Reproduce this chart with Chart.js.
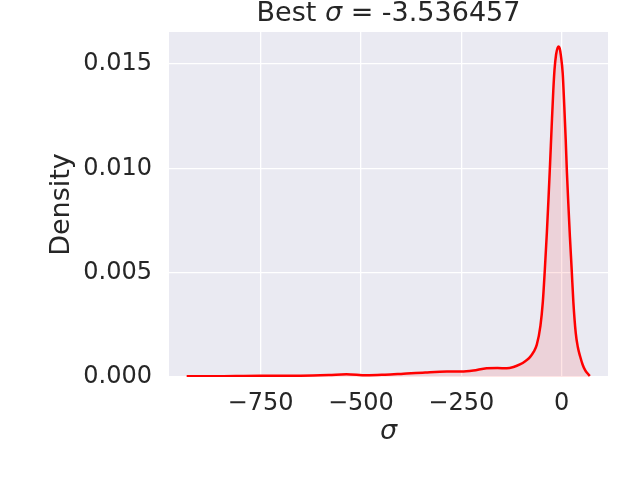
<!DOCTYPE html>
<html>
<head>
<meta charset="utf-8">
<script src="https://cdn.jsdelivr.net/npm/chart.js@4/dist/chart.umd.min.js"></script>
<style>
  html, body { margin: 0; padding: 0; background: #ffffff; }
  #wrap { width: 640px; height: 480px; }
</style>
</head>
<body>
<div id="wrap"><canvas id="kdeChart" width="640" height="480"></canvas></div>
<script>
// KDE curve (sigma, density)
const SIGMA = [-934, -850, -750, -650, -580, -536, -486, -440, -394, -340, -286, -250, -220, -187, -160, -137, -120, -104, -90, -79, -70, -62, -53, -47, -42, -37, -33, -29, -25, -21, -18, -14, -10, -7.5, -5, -2, 2.5, 6.5, 10, 13, 16.5, 20.5, 25, 29, 35, 40, 46, 52, 58, 64, 70];
const DENSITY = [0.00003, 0.00004, 0.00006, 0.00006, 0.00009, 0.00013, 0.00008, 0.00011, 0.00016, 0.00022, 0.00026, 0.00026, 0.00031, 0.00042, 0.00043, 0.00042, 0.00048, 0.00060, 0.00077, 0.00095, 0.00120, 0.00155, 0.00245, 0.00360, 0.00515, 0.00690, 0.00850, 0.01020, 0.01200, 0.01370, 0.01470, 0.01545, 0.01578, 0.01583, 0.01575, 0.01540, 0.01455, 0.01295, 0.01136, 0.00980, 0.00830, 0.00670, 0.00510, 0.00360, 0.00210, 0.00145, 0.00098, 0.00060, 0.00034, 0.00018, 0.00005];

const X_TICKS = [-750, -500, -250, 0];
const X_TICK_LABELS = ['\u2212750', '\u2212500', '\u2212250', '0'];
const Y_TICKS = [0, 0.005, 0.010, 0.015];
const Y_TICK_LABELS = ['0.000', '0.005', '0.010', '0.015'];

const TITLE_PARTS = [['Best ', false], ['\u03c3', true], [' = -3.536457', false]];
const FONT = '"DejaVu Sans", sans-serif';
const TEXT_COLOR = '#262626';

const points = SIGMA.map((s, i) => ({ x: s, y: DENSITY[i] }));

// seaborn darkgrid background behind the plot area
const bgPlugin = {
    id: 'plotBg',
    beforeDraw(chart) {
        const { ctx, chartArea: a } = chart;
        ctx.save();
        ctx.fillStyle = '#EAEAF2';
        ctx.fillRect(a.left, a.top, a.right - a.left, a.bottom - a.top);
        ctx.restore();
    }
};

// title centred over the plot area, sigma in italics
const titlePlugin = {
    id: 'mixedTitle',
    afterDraw(chart) {
        const { ctx, chartArea: a } = chart;
        ctx.save();
        ctx.fillStyle = TEXT_COLOR;
        ctx.textBaseline = 'alphabetic';
        ctx.textAlign = 'left';
        const fontFor = it => (it ? 'italic ' : '') + '27px ' + FONT;
        let total = 0;
        TITLE_PARTS.forEach(([t, it]) => { ctx.font = fontFor(it); total += ctx.measureText(t).width; });
        let x = (a.left + a.right) / 2 - total / 2;
        TITLE_PARTS.forEach(([t, it]) => {
            ctx.font = fontFor(it);
            ctx.fillText(t, x, 21);
            x += ctx.measureText(t).width;
        });
        ctx.restore();
    }
};

new Chart(document.getElementById('kdeChart').getContext('2d'), {
    type: 'line',
    data: {
        datasets: [{
            data: points,
            borderColor: '#ff0000',
            backgroundColor: 'rgba(255, 0, 0, 0.1)',
            borderWidth: 2.5,
            fill: 'origin',
            pointRadius: 0,
            cubicInterpolationMode: 'monotone'
        }]
    },
    options: {
        responsive: false,
        animation: false,
        layout: { padding: { top: 32, right: 32, bottom: 32, left: 0 } },
        scales: {
            x: {
                type: 'linear',
                min: -978,
                max: 115.3,
                afterBuildTicks: s => { s.ticks = X_TICKS.map(v => ({ value: v })); },
                afterFit: s => { s.height = 71; },
                grid: { color: '#ffffff', lineWidth: 1.3, drawTicks: false },
                border: { display: false },
                ticks: {
                    padding: 12,
                    color: TEXT_COLOR,
                    font: { family: FONT, size: 24 },
                    callback: v => X_TICK_LABELS[X_TICKS.indexOf(v)]
                },
                title: {
                    display: true,
                    text: '\u03c3',
                    color: TEXT_COLOR,
                    font: { family: FONT, size: 27, style: 'italic' },
                    padding: { top: 0, bottom: 0 }
                }
            },
            y: {
                min: 0,
                max: 0.01653,
                afterBuildTicks: s => { s.ticks = Y_TICKS.map(v => ({ value: v })); },
                afterFit: s => { s.width = 169; },
                grid: { color: '#ffffff', lineWidth: 1.3, drawTicks: false },
                border: { display: false },
                ticks: {
                    padding: 17,
                    color: TEXT_COLOR,
                    font: { family: FONT, size: 24 },
                    callback: v => Y_TICK_LABELS[Y_TICKS.indexOf(v)]
                },
                title: {
                    display: true,
                    text: 'Density',
                    color: TEXT_COLOR,
                    font: { family: FONT, size: 27 },
                    padding: { top: 46, bottom: 0 }
                }
            }
        },
        plugins: {
            legend: { display: false },
            tooltip: { enabled: false },
            title: { display: false }
        }
    },
    plugins: [bgPlugin, titlePlugin]
});
</script>
</body>
</html>
